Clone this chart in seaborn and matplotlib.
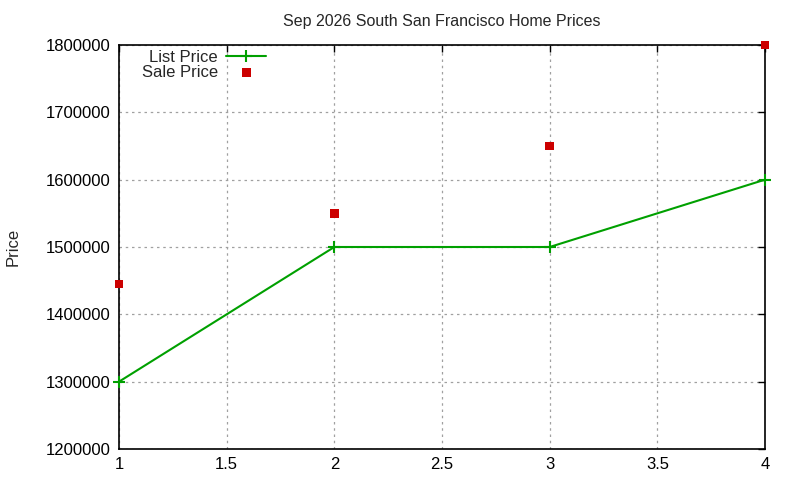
import matplotlib
matplotlib.use("Agg")
import matplotlib.pyplot as plt
import seaborn as sns
import pandas as pd
import numpy as np

months = [1, 2, 3, 4]
list_price = [1300000, 1500000, 1500000, 1600000]
sale_price = [1445000, 1550000, 1650000, 1800000]

sns.set_style("white")
plt.rcParams['font.family'] = ['Liberation Sans', 'DejaVu Sans']

df = pd.DataFrame({"x": months, "list": list_price, "sale": sale_price})

fig = plt.figure(figsize=(8, 4.8), dpi=100)
ax = fig.add_axes([119/800, 1-449/480, (765-119)/800, (449-45)/480])

sns.lineplot(data=df, x="x", y="list", ax=ax, color="#00a000", marker="+",
             markersize=9, markeredgewidth=1.5, markeredgecolor="#00a000",
             linewidth=1.5, label="List Price", clip_on=False, zorder=4)
sns.scatterplot(data=df, x="x", y="sale", ax=ax, color="#cc0000", marker="s",
                s=40, edgecolor="none", label="Sale Price", clip_on=False, zorder=5)

ax.set_xlim(1, 4)
ax.set_ylim(1200000, 1800000)
ax.set_xticks(np.arange(1, 4.01, 0.5))
ax.set_xticklabels(["1", "1.5", "2", "2.5", "3", "3.5", "4"])
ax.set_yticks(np.arange(1200000, 1800001, 100000))
ax.set_yticklabels([str(int(v)) for v in np.arange(1200000, 1800001, 100000)])
ax.tick_params(direction="in", length=5, width=1, top=True, right=True,
               labelsize=12, colors="black", pad=6)
for s in ax.spines.values():
    s.set_color("black")
    s.set_linewidth(1.2)
ax.grid(True, color="#a0a0a0", linestyle=(0, (2, 3)), linewidth=0.9)
ax.set_axisbelow(True)
ax.set_xlabel("")
ax.set_ylabel("Price", fontsize=12, labelpad=18)
ax.set_title("Sep 2026 South San Francisco Home Prices", fontsize=11.5, pad=14)

leg = ax.legend(loc="upper left", bbox_to_anchor=(0.02, 1.0125), frameon=False,
                markerfirst=False, fontsize=12, handlelength=2.4,
                labelspacing=0.0, borderaxespad=0.2, alignment="right",
                handletextpad=0.5)
for t in leg.get_texts():
    t.set_ha("right")

fig.savefig("out.png", dpi=100)
